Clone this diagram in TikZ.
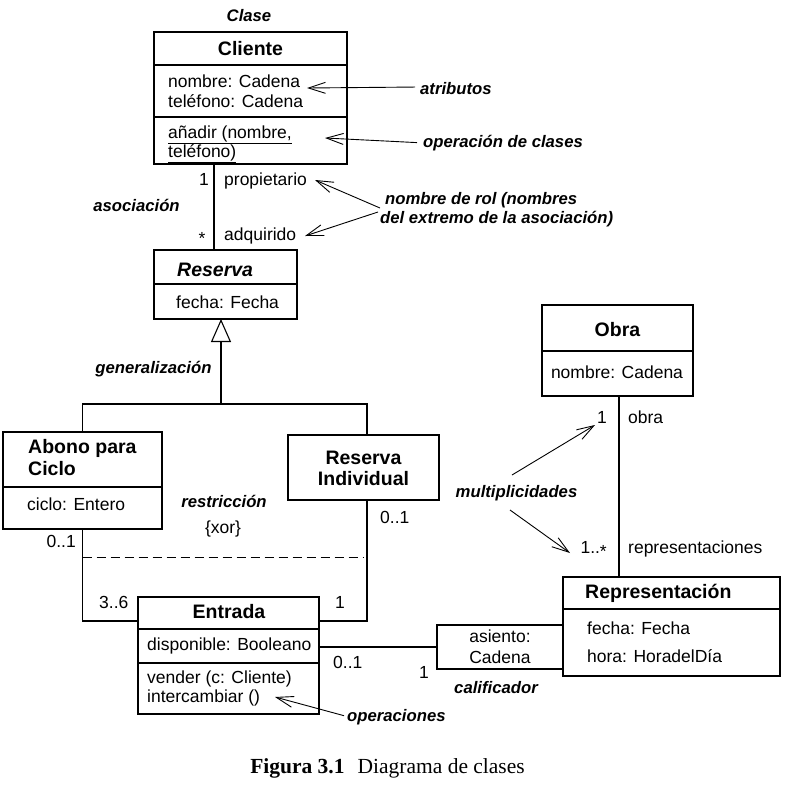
\documentclass[tikz,border=0pt]{standalone}
\usepackage{fontspec}
\setmainfont{Liberation Sans}
\newfontfamily\capfont{Liberation Serif}
\usetikzlibrary{arrows.meta,calc}
\begin{document}
\begin{tikzpicture}[x=1pt,y=-1pt,
  lw/.style={line width=1.2pt},
  box/.style={draw,line width=1.2pt,inner sep=0pt,outer sep=0pt,anchor=north west},
  txt/.style={font=\fontsize{17.5}{20}\selectfont,inner sep=0pt,anchor=base west},
  txtc/.style={txt,anchor=base},
  txte/.style={txt,anchor=base east},
  cname/.style={font=\fontsize{19.5}{22}\selectfont\bfseries,inner sep=0pt,anchor=base},
  cnamel/.style={cname,anchor=base west},
  lbl/.style={font=\fontsize{16.7}{19}\selectfont\bfseries\itshape,inner sep=0pt,anchor=base west},
  lblc/.style={lbl,anchor=base},
  conn/.style={line width=1.1pt},
  note/.style={line width=0.9pt,-{Straight Barb[length=17pt,width=11pt,line width=0.9pt]}},
  gen/.style={line width=1.1pt,-{Triangle[open,length=23pt,width=20pt,line width=1.1pt]}}
]
\useasboundingbox (0,0) rectangle (785,788);

% ---------- Cliente
\node[lblc] (lClase) at (249,21) {Clase};
\node[box,minimum width=193pt,minimum height=132pt] (cli) at (154,32) {};
\draw[lw] (154,65) -- (347,65);
\draw[lw] (154,117) -- (347,117);
\node[cname] (cliN) at (250.5,55) {Cliente};
\node[txt] (cliA1) at (168,87) {nombre: Cadena};
\node[txt] (cliA2) at (168,107) {teléfono: Cadena};
\node[txt] (cliO1) at (168,138) {\underline{añadir (nombre,}};
\node[txt] (cliO2) at (168,157) {\underline{teléfono)}};

% ---------- Reserva
\node[box,minimum width=143pt,minimum height=69pt] (res) at (154,250) {};
\draw[lw] (154,284) -- (297,284);
\node[cnamel,font=\fontsize{19.5}{22}\selectfont\bfseries\itshape] (resN) at (177,276) {Reserva};
\node[txt] (resA) at (176,308) {fecha: Fecha};

% ---------- Abono para Ciclo
\node[box,minimum width=159pt,minimum height=97pt] (abo) at (3,432) {};
\draw[lw] (3,487) -- (162,487);
\node[cnamel] (aboN1) at (28,453) {Abono para};
\node[cnamel] (aboN2) at (28,475) {Ciclo};
\node[txt] (aboA) at (27,510) {ciclo: Entero};

% ---------- Reserva Individual
\node[box,minimum width=151pt,minimum height=65pt] (ri) at (288,435) {};
\node[cname] (riN1) at (363.5,464) {Reserva};
\node[cname] (riN2) at (363.5,485) {Individual};

% ---------- Entrada
\node[box,minimum width=181pt,minimum height=117pt] (ent) at (138,597) {};
\draw[lw] (138,629) -- (319,629);
\draw[lw] (138,663) -- (319,663);
\node[cname] (entN) at (229,618) {Entrada};
\node[txt] (entA) at (147,650) {disponible: Booleano};
\node[txt] (entO1) at (147,683) {vender (c: Cliente)};
\node[txt] (entO2) at (147,702) {intercambiar ()};

% ---------- Obra
\node[box,minimum width=151pt,minimum height=91pt] (obra) at (542,305) {};
\draw[lw] (542,351) -- (693,351);
\node[cname] (obraN) at (617.5,336) {Obra};
\node[txtc] (obraA) at (617,378) {nombre: Cadena};

% ---------- Representacion
\node[box,minimum width=217pt,minimum height=99pt] (rep) at (563,577) {};
\draw[lw] (563,609) -- (780,609);
\node[cnamel] (repN) at (585,598) {Representación};
\node[txt] (repA1) at (587,634) {fecha: Fecha};
\node[txt] (repA2) at (587,662) {hora: HoradelDía};

% ---------- qualifier
\node[box,minimum width=126pt,minimum height=44pt] (qual) at (437,625) {};
\node[txtc] (qualA1) at (500,642) {asiento:};
\node[txtc] (qualA2) at (500,663) {Cadena};

% ---------- connectors
\draw[conn] ([xshift=60pt]cli.south west) -- ([xshift=60pt]res.north west);
\node[txte] (m1) at (209,185) {1};
\node[txt] (r1) at (224,185) {propietario};
\node[txtc] (m2) at (202,244) {*};
\node[txt] (r2) at (224,240) {adquirido};
\node[lblc] (lAsoc) at (136.5,211) {asociación};

\coordinate (gj) at (221,404);
\draw[gen] (gj) -- (gj |- res.south);
\draw[conn] (abo.north) |- (gj) -| ([xshift=3.5pt]ri.north);
\node[lblc] (lGen) at (153.5,373) {generalización};

\draw[conn] (abo.south) |- ($(ent.north west)+(0,24)$);
\draw[conn] ([xshift=3.5pt]ri.south) |- ($(ent.north east)+(0,24)$);
\draw[line width=1pt,dash pattern=on 9pt off 5pt] ($(abo.south)+(0,28)$) -- ($([xshift=-0.5pt]ri.south)+(0,57)$);
\node[txte] (m3) at (76,547) {0..1};
\node[txt] (m4) at (380,523) {0..1};
\node[txt] (m5) at (99,608) {3..6};
\node[txt] (m6) at (335,608) {1};
\node[lblc] (lRes) at (224,507) {restricción};
\node[txtc] (xor) at (223,533) {\{xor\}};

\draw[conn] (ent.east |- qual.west) -- (qual.west);
\node[txt] (m7) at (333,668) {0..1};
\node[txt] (m8) at (419,678) {1};
\node[lblc] (lCal) at (496,693) {calificador};

\draw[conn] ([xshift=1.5pt]obra.south) -- ([xshift=1.5pt]obra.south |- rep.north);
\node[txte] (m9) at (607,423) {1};
\node[txt] (r3) at (628,423) {obra};
\node[txte] (m10) at (607,553) {1..\raisebox{-4pt}{*}};
\node[txt] (r4) at (628,553) {representaciones};

% ---------- annotations
\node[lbl] (lAtr) at (420,94) {atributos};
\node[lbl] (lOpc) at (423,147) {operación de clases};
\node[lbl] (lRol1) at (385,204) {nombre de rol (nombres};
\node[lbl] (lRol2) at (380,223) {del extremo de la asociación)};
\node[lblc] (lMul) at (516.5,497) {multiplicidades};
\node[lbl] (lOps) at (347,721) {operaciones};

\coordinate (aAtr) at (307,88);
\coordinate (aOpc) at (325,138);
\coordinate (aRol1) at (315,180);
\coordinate (aRol2) at (305,236);
\coordinate (aMul1) at (595,425);
\coordinate (aMul2) at (570,553);
\coordinate (aOps) at (275,697);
\draw[note] ([xshift=-5pt,yshift=1pt]lAtr.west) -- (aAtr);
\draw[note] ([xshift=-6pt]lOpc.west) -- (aOpc);
\draw[note] (380,208) -- (aRol1);
\draw[note] (378,212) -- (aRol2);
\draw[note] (512,475) -- (aMul1);
\draw[note] (510,510) -- (aMul2);
\draw[note] ([xshift=-3pt,yshift=1pt]lOps.west) -- (aOps);

% ---------- caption
\node[font=\capfont\fontsize{21.5}{25}\selectfont,inner sep=0pt,anchor=base] (cap) at (387.5,773) {{\bfseries Figura 3.1}\hspace{13pt}Diagrama de clases};
\end{tikzpicture}
\end{document}
